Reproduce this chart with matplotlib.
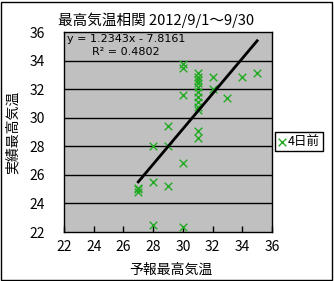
import matplotlib
matplotlib.use("Agg")
import matplotlib.pyplot as plt
from matplotlib.patches import Rectangle
import numpy as np

plt.rcParams['font.family'] = ['Noto Sans CJK JP', 'DejaVu Sans']

# data: forecast max temp (x) vs observed max temp (y), 4 days before
forecast = [27, 27, 27, 28, 28, 28, 29, 29, 29, 30, 30, 30, 30, 30,
            31, 31, 31, 31, 31, 31, 31, 31, 31, 31, 31, 31,
            32, 32, 33, 34, 35]
observed = [25.1, 24.8, 25.0, 25.5, 28.05, 22.5, 25.2, 28.05, 29.4, 26.8, 31.6, 33.45, 33.75, 22.35,
            33.1, 32.85, 32.65, 32.4, 32.15, 31.8, 31.45, 31.1, 30.75, 30.55, 29.05, 28.55,
            32.85, 32.0, 31.35, 32.85, 33.1]
slope, intercept = 1.2343, -7.8161
r2 = 0.4802
series_label = "4日前"
title = "最高気温相関 2012/9/1～9/30"
xlabel = "予報最高気温"
ylabel = "実績最高気温"
ticks = [22, 24, 26, 28, 30, 32, 34, 36]

W, H = 334, 281
fig = plt.figure(figsize=(W / 100, H / 100), dpi=100)
fig.patch.set_facecolor('white')
fig.patches.append(Rectangle((0.5 / W, 1.5 / H), (W - 2.5) / W, (H - 3) / H,
                             transform=fig.transFigure, fill=False,
                             edgecolor='black', linewidth=1.0))

ax = fig.add_axes([64 / W, 1 - 232 / H, 208 / W, 200 / H])
ax.set_facecolor('#c0c0c0')
ax.set_xlim(22, 36)
ax.set_ylim(22, 36)
ax.set_xticks(ticks)
ax.set_yticks(ticks)
for y in ticks[1:-1]:
    ax.axhline(y, color='black', linewidth=1.0, zorder=1)
for s in ax.spines.values():
    s.set_color('black')
    s.set_linewidth(1.0)
ax.tick_params(axis='x', direction='in', length=4, width=1, labelsize=10, pad=6, colors='black')
ax.tick_params(axis='y', direction='in', length=0, labelsize=10, pad=14, colors='black')

ax.scatter(forecast, observed, marker='x', s=30, color='#22aa22', linewidths=1.0,
           zorder=3, label=series_label)

xs = np.array([min(forecast), max(forecast)])
ax.plot(xs, slope * xs + intercept, color='black', linewidth=2.0, zorder=4)

ax.text(67 / W, 1 - 39 / H, "y = 1.2343x - 7.8161", transform=fig.transFigure,
        fontsize=8, va='center', ha='left', family=['DejaVu Sans'])
ax.text(92 / W, 1 - 52 / H, "R² = %.4f" % r2, transform=fig.transFigure,
        fontsize=8, va='center', ha='left', family=['DejaVu Sans'])

fig.text(156 / W, 1 - 20 / H, title, fontsize=10.5, ha='center', va='center')
fig.text(171 / W, 1 - 270 / H, xlabel, fontsize=10, ha='center', va='center')
fig.text(13 / W, 1 - 132 / H, ylabel, fontsize=10, ha='center', va='center', rotation=90)

leg = ax.legend(loc='center left', bbox_to_anchor=(275 / W, 1 - 141.5 / H),
                bbox_transform=fig.transFigure, frameon=True, fancybox=False,
                edgecolor='black', framealpha=1, fontsize=9, handlelength=0.6,
                handletextpad=0.2, borderpad=0.25, borderaxespad=0)
leg.get_frame().set_linewidth(1.0)

fig.savefig("out.png", dpi=100, facecolor='white')
